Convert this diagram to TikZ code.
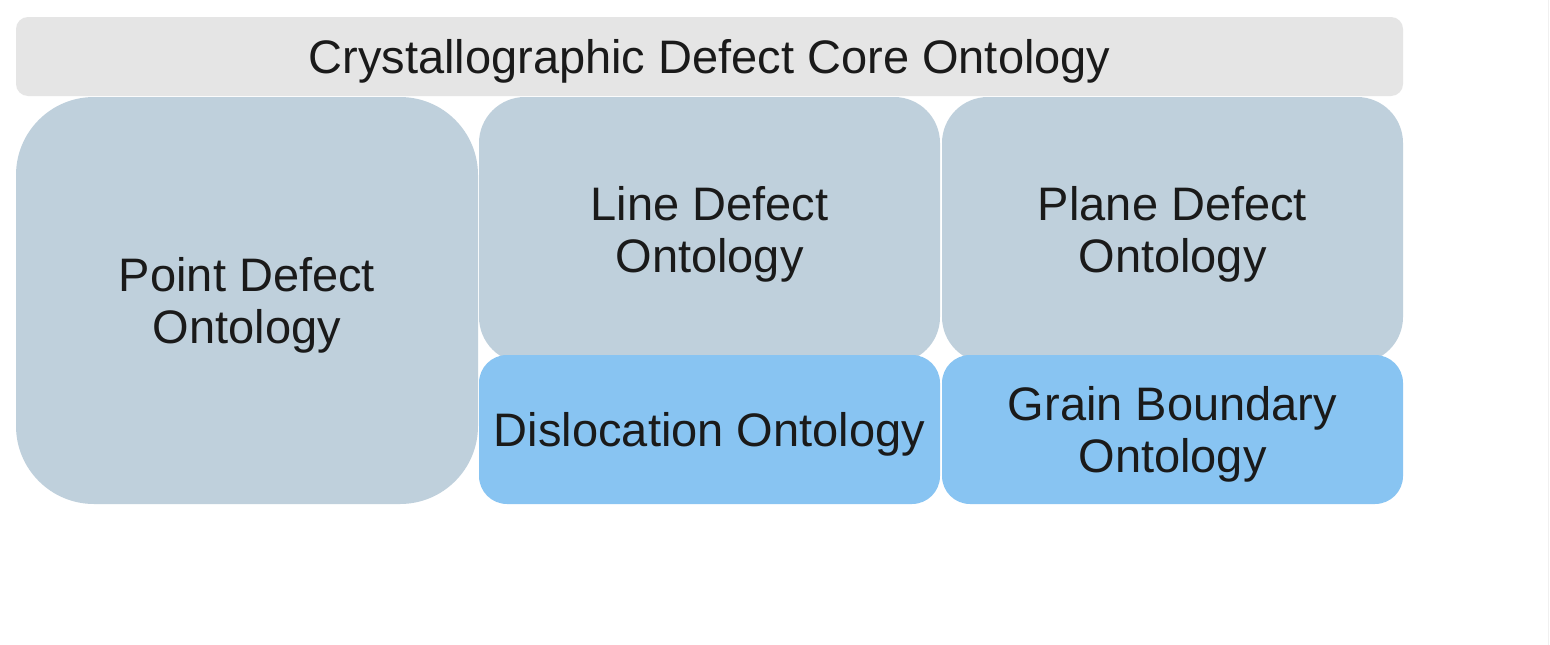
\documentclass[tikz,border=0pt]{standalone}
\usepackage{fontspec}
\setmainfont{Liberation Sans}
\definecolor{titlebg}{HTML}{E5E5E5}
\definecolor{greyblue}{HTML}{BFD0DC}
\definecolor{lightblue}{HTML}{88C4F2}
\definecolor{txt}{HTML}{1A1A1A}
\begin{document}
\begin{tikzpicture}[x=1pt,y=-1pt,
  lbl/.style={text=txt,align=center,font=\fontsize{47}{52}\selectfont,inner sep=0pt,outer sep=0pt,yshift=-4.5pt},
  shp/.style={inner sep=0pt,outer sep=0pt},
  titlebox/.style={shp,fill=titlebg,rounded corners=12pt,minimum width=1387pt,minimum height=79pt},
  bigbox/.style={shp,fill=greyblue,rounded corners=78pt,minimum width=462pt,minimum height=407pt},
  upbox/.style={shp,fill=greyblue,rounded corners=46pt,minimum width=461pt,minimum height=266pt},
  lowbox/.style={shp,fill=lightblue,rounded corners=28pt,minimum width=461pt,minimum height=149pt}]
\useasboundingbox (0,0) rectangle (1550,645);
\fill[white] (0,0) rectangle (1550,645);
\draw[gray!12,line width=1pt] (1548.5,0) -- (1548.5,645);
\node[titlebox] (title) at (709.5,56.5) {};
\node[lbl] (titlet) at (title.center) {Crystallographic Defect Core Ontology};
\node[bigbox] (point) at (247,300.5) {};
\node[lbl] (pointt) at (point.center) {Point Defect\\Ontology};
\node[upbox] (line) at (709.5,230) {};
\node[lbl] (linet) at (line.center) {Line Defect\\Ontology};
\node[upbox] (plane) at (1172.5,230) {};
\node[lbl] (planet) at (plane.center) {Plane Defect\\Ontology};
\node[lowbox] (disl) at (709.5,429.5) {};
\node[lbl] (dislt) at (disl.center) {Dislocation Ontology};
\node[lowbox] (grain) at (1172.5,429.5) {};
\node[lbl] (graint) at (grain.center) {Grain Boundary\\Ontology};
\end{tikzpicture}
\end{document}
